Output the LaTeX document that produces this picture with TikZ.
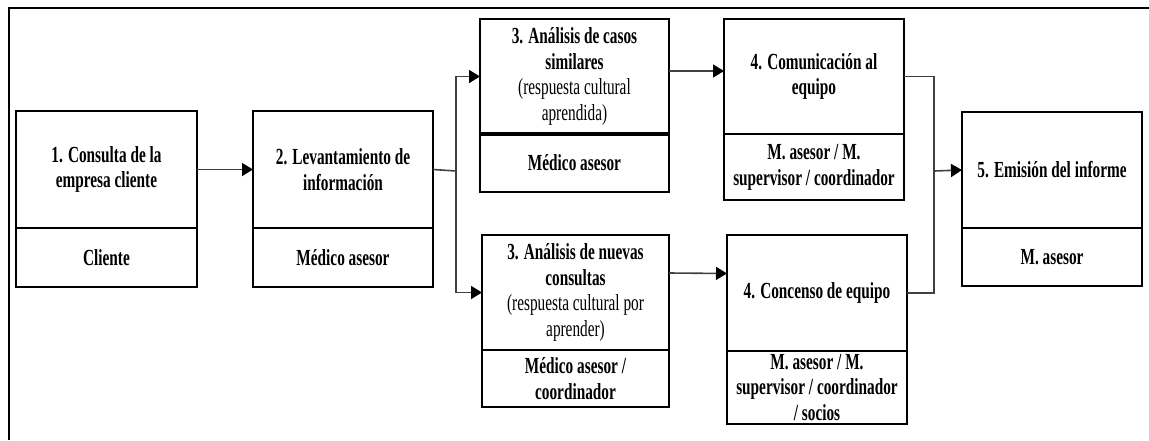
\documentclass[tikz,border=0pt]{standalone}
\usepackage{fontspec}
\setmainfont{Liberation Serif}[FakeStretch=0.665]
\usetikzlibrary{arrows.meta}
\begin{document}
\begin{tikzpicture}[x=1pt,y=-1pt,
  part/.style={draw=black, line width=2pt, anchor=north west, inner sep=0pt,
    outer sep=0pt, align=center, font=\fontsize{23}{25.8}\selectfont\bfseries},
  link/.style={draw=black!75, line width=1.6pt},
  arrow/.style={link, -{Triangle[length=11pt,width=13pt,black]}},
  frame/.style={line width=2.2pt}]
\useasboundingbox (0,0) rectangle (1149,440);

% outer frame (top and left edges)
\draw[frame] (9,440) -- (9,7.7) -- (1149,7.7);

% 1. client query
\node[part, minimum width=181pt, minimum height=117pt] (t1) at (16,111)
  {1. Consulta de la\\ empresa cliente};
\node[part, minimum width=181pt, minimum height=59pt] (b1) at (16,228) {Cliente};

% 2. information gathering
\node[part, minimum width=180pt, minimum height=117pt] (t2) at (253,111)
  {2. Levantamiento de\\ información};
\node[part, minimum width=180pt, minimum height=59pt] (b2) at (253,228) {Médico asesor};

% 3. similar cases
\node[part, minimum width=189pt, minimum height=115pt] (t3a) at (480,19)
  {3. Análisis de casos\\ similares\\ {\mdseries (respuesta cultural}\\ {\mdseries aprendida)}};
\node[part, minimum width=189pt, minimum height=58pt] (b3a) at (480,134) {Médico asesor};
\draw[line width=4.5pt] (b3a.north west) -- (b3a.north east);

% 3. new queries
\node[part, minimum width=187pt, minimum height=115pt] (t3b) at (482,235)
  {3. Análisis de nuevas\\ consultas\\ {\mdseries (respuesta cultural por}\\ {\mdseries aprender)}};
\node[part, minimum width=187pt, minimum height=57pt] (b3b) at (482,350)
  {Médico asesor /\\ coordinador};

% 4. team communication
\node[part, minimum width=180pt, minimum height=115pt] (t4a) at (724,19)
  {4. Comunicación al\\ equipo};
\node[part, minimum width=180pt, minimum height=66pt] (b4a) at (724,134)
  {M. asesor / M.\\ supervisor / coordinador};

% 4. team consensus
\node[part, minimum width=180pt, minimum height=116pt] (t4b) at (727,235)
  {4. Concenso de equipo};
\node[part, minimum width=180pt, minimum height=73pt] (b4b) at (727,351)
  {M. asesor / M.\\ supervisor / coordinador\\ / socios};

% 5. report
\node[part, minimum width=180pt, minimum height=116pt] (t5) at (962,112)
  {5. Emisión del informe};
\node[part, minimum width=180pt, minimum height=58pt] (b5) at (962,228) {M. asesor};

% connectors
\coordinate (fork) at (456,171);
\coordinate (merge) at (934,171);

\draw[arrow] (t1.east) -- (t2.west);
\draw[link] (t2.east) -- (fork);
\draw[arrow] (fork) |- (t3a.west);
\draw[arrow] (fork) |- (t3b.west);
\draw[arrow] ([yshift=5.5pt]t3a.east) -- ([yshift=5.5pt]t4a.west);
\draw[arrow] ([yshift=19.5pt]t3b.east) -- ([yshift=19.5pt]t4b.west);
\draw[link] (t4a.east) -| (merge);
\draw[link] (t4b.east) -| (merge);
\draw[arrow] (merge) -- (t5.west);
\end{tikzpicture}
\end{document}
